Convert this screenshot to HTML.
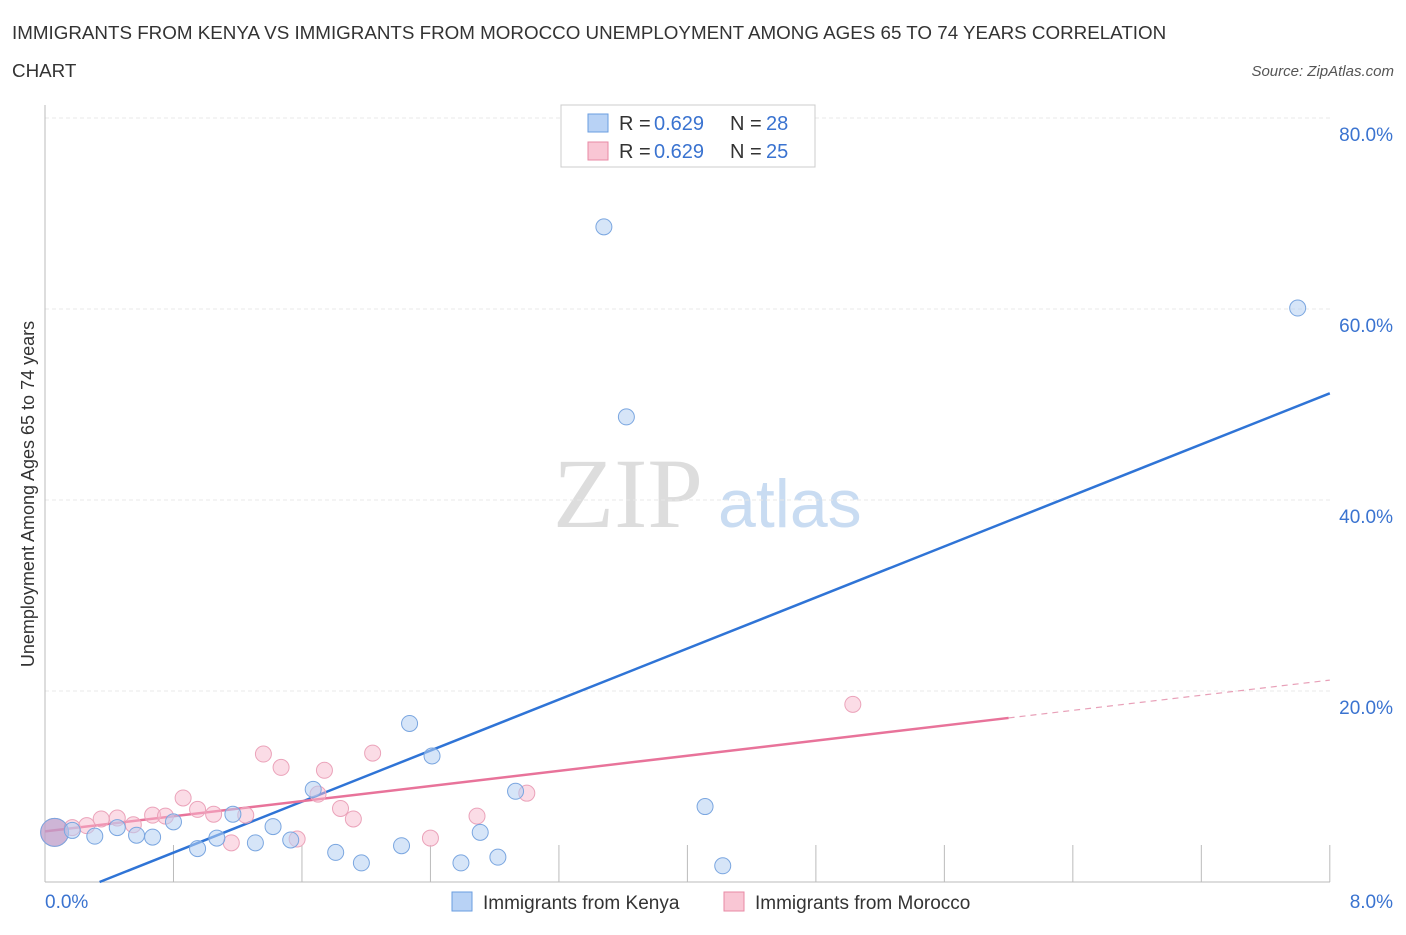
<!DOCTYPE html>
<html><head><meta charset="utf-8"><style>
body{margin:0;background:#fff;font-family:"Liberation Sans",sans-serif;}
</style></head><body>
<svg width="1406" height="930" xmlns="http://www.w3.org/2000/svg" font-family="Liberation Sans, sans-serif">
<text x="12" y="39" font-size="18.8" fill="#333">IMMIGRANTS FROM KENYA VS IMMIGRANTS FROM MOROCCO UNEMPLOYMENT AMONG AGES 65 TO 74 YEARS CORRELATION</text>
<text x="12" y="77" font-size="18.8" fill="#333">CHART</text>
<text x="1394" y="76" font-size="15" fill="#555" font-style="italic" text-anchor="end">Source: ZipAtlas.com</text>
<g>
<text x="553" y="527" font-size="100" fill="#ddd" style="font-family:'Liberation Serif',serif">ZIP</text>
<text x="718" y="527" font-size="68" fill="#c9dcf2">atlas</text>
</g>
<g id="grid"></g>
<g id="axes"></g>
<g id="lines"></g>
<g id="points"></g>
<text x="34" y="494" font-size="18" fill="#333" text-anchor="middle" transform="rotate(-90 34 494)">Unemployment Among Ages 65 to 74 years</text>
<g>
<rect x="561" y="105" width="254" height="62" fill="#fff" stroke="#ccc"/>
<rect x="588" y="114" width="20" height="18" fill="#b8d2f5" stroke="#6a9ee0"/>
<text x="619" y="130" font-size="20" fill="#333">R = </text><text x="654" y="130" font-size="20" fill="#3a73d0">0.629</text>
<text x="730" y="130" font-size="20" fill="#333">N = </text><text x="766" y="130" font-size="20" fill="#3a73d0">28</text>
<rect x="588" y="142" width="20" height="18" fill="#f9c6d4" stroke="#e88aa5"/>
<text x="619" y="158" font-size="20" fill="#333">R = </text><text x="654" y="158" font-size="20" fill="#3a73d0">0.629</text>
<text x="730" y="158" font-size="20" fill="#333">N = </text><text x="766" y="158" font-size="20" fill="#3a73d0">25</text>
</g>
<g>
<rect x="452" y="892" width="20" height="19" fill="#b8d2f5" stroke="#6a9ee0"/>
<text x="483" y="909" font-size="19" fill="#333">Immigrants from Kenya</text>
<rect x="724" y="892" width="20" height="19" fill="#f9c6d4" stroke="#e88aa5"/>
<text x="755" y="909" font-size="19" fill="#333">Immigrants from Morocco</text>
</g>
</svg>
<script>
const kenyaX=[0.06,0.17,0.31,0.45,0.57,0.67,0.80,0.95,1.07,1.17,1.31,1.42,1.53,1.67,1.81,1.97,2.22,2.27,2.41,2.59,2.71,2.82,2.93,3.48,3.62,4.11,4.22,7.80];
const kenyaY=[5.2,5.4,4.8,5.7,4.9,4.7,6.3,3.5,4.6,7.1,4.1,5.8,4.4,9.7,3.1,2.0,3.8,16.6,13.2,2.0,5.2,2.6,9.5,68.6,48.7,7.9,1.7,60.1];
const moroccoX=[0.06,0.17,0.26,0.35,0.45,0.55,0.67,0.75,0.86,0.95,1.05,1.16,1.25,1.36,1.47,1.57,1.70,1.74,1.84,1.92,2.04,2.40,2.69,3.00,5.03];
const moroccoY=[5.2,5.7,5.9,6.6,6.7,6.0,7.0,6.9,8.8,7.6,7.1,4.1,7.0,13.4,12.0,4.5,9.2,11.7,7.7,6.6,13.5,4.6,6.9,9.3,18.6];
const kenyaTrend=[-2.27,6.68];
const moroccoTrend=[5.3,1.98];
const yTicks=[20,40,60,80];
const xTickLabels=["0.0%","8.0%"];
const NS="http://www.w3.org/2000/svg";
const X=v=>45+v*160.6, Y=v=>882-v*9.55;
function mk(p,t,a){const e=document.createElementNS(NS,t);for(const k in a)e.setAttribute(k,a[k]);p.appendChild(e);return e;}
const grid=document.getElementById('grid'),axes=document.getElementById('axes'),lines=document.getElementById('lines'),pts=document.getElementById('points');
yTicks.forEach(t=>{const l=mk(grid,'line',{x1:45,x2:1330,y1:Y(t),y2:Y(t),stroke:'#e8e8e8','stroke-dasharray':'4,3'});

const tx=mk(axes,'text',{x:1393,y:Y(t)+23,'font-size':19,fill:'#3a73d0','text-anchor':'end'});tx.textContent=t.toFixed(1)+'%';
});
mk(grid,'line',{x1:45,x2:1330,y1:118,y2:118,stroke:'#e8e8e8','stroke-dasharray':'4,3'});
mk(axes,'line',{x1:45,x2:45,y1:105,y2:882,stroke:'#bbb'});
mk(axes,'line',{x1:45,x2:1330,y1:882,y2:882,stroke:'#bbb'});
for(let i=1;i<=10;i++){const l=mk(axes,'line',{x1:X(i*0.8),x2:X(i*0.8),y1:845,y2:882,stroke:'#bbb'});}
const t0=mk(axes,'text',{x:45,y:908,'font-size':19,fill:'#3a73d0'});t0.textContent=xTickLabels[0];

const t1=mk(axes,'text',{x:1393,y:908,'font-size':19,fill:'#3a73d0','text-anchor':'end'});t1.textContent=xTickLabels[1];

const kx0=-kenyaTrend[0]/kenyaTrend[1];
const kl=mk(lines,'line',{x1:X(kx0),y1:Y(0),x2:X(8),y2:Y(kenyaTrend[0]+kenyaTrend[1]*8),stroke:'#2f74d6','stroke-width':2.5});

const ml=mk(lines,'line',{x1:X(0),y1:Y(moroccoTrend[0]),x2:X(6),y2:Y(moroccoTrend[0]+moroccoTrend[1]*6),stroke:'#e8739a','stroke-width':2.5});

const md=mk(lines,'line',{x1:X(6),y1:Y(moroccoTrend[0]+moroccoTrend[1]*6),x2:X(8),y2:Y(moroccoTrend[0]+moroccoTrend[1]*8),stroke:'#e8a0b8','stroke-width':1.2,'stroke-dasharray':'6,5'});

moroccoX.forEach((x,i)=>{const c=mk(pts,'circle',{cx:X(x),cy:Y(moroccoY[i]),r:i==0?14:8,fill:'rgba(248,185,205,0.5)',stroke:'#eba3ba','stroke-width':1});
});
kenyaX.forEach((x,i)=>{const c=mk(pts,'circle',{cx:X(x),cy:Y(kenyaY[i]),r:i==0?14:8,fill:i==0?'rgba(170,150,200,0.55)':'rgba(180,207,243,0.55)',stroke:'#7aa6e0','stroke-width':1});
});
</script>
</body></html>
